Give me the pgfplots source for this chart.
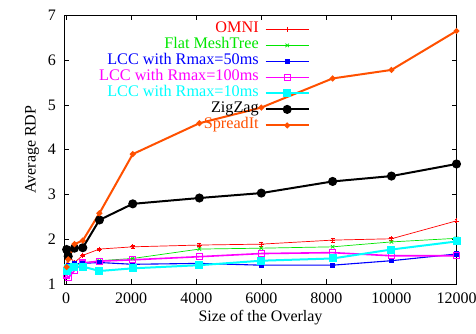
\documentclass[border=0pt]{standalone}
\usepackage{pgfplots}
\pgfplotsset{compat=1.18}
\usepackage{fontspec}
\setmainfont{Liberation Serif}
\definecolor{cOmni}{RGB}{255,0,0}
\definecolor{cFlat}{RGB}{0,230,0}
\definecolor{cL50}{RGB}{0,0,255}
\definecolor{cL100}{RGB}{255,0,255}
\definecolor{cL10}{RGB}{0,255,255}
\definecolor{cSpread}{RGB}{255,80,0}
\begin{document}
\fontsize{16}{19}\selectfont
\begin{tikzpicture}
\useasboundingbox (-64.5pt,-50pt) rectangle (411.5pt,284pt);
\begin{axis}[
  at={(0pt,0pt)}, anchor=south west,
  scale only axis, width=392pt, height=268.7pt,
  xmin=-50, xmax=12000, ymin=1, ymax=7,
  xtick={0,2000,4000,6000,8000,10000,12000},
  ytick={1,2,3,4,5,6,7},
  scaled x ticks=false,
  tick align=inside, major tick length=5pt,
  minor tick num=0,
  axis line style={line width=0.8pt},
  every tick/.style={line width=0.6pt, black},
  /pgf/number format/assume math mode=true,
  /pgf/number format/1000 sep={},
  ticklabel style={font=\fontsize{16}{19}\selectfont},
  xticklabel style={yshift=-3pt},
  yticklabel style={xshift=-3pt},
  xlabel={Size of the Overlay},
  ylabel={Average RDP},
  label style={font=\fontsize{16}{19}\selectfont},
  xlabel style={yshift=4pt},
  ylabel style={yshift=-2pt},
  legend plot pos=right,
  legend cell align=right,
  legend style={at={(0.626,0.978)}, anchor=north east, draw=none, fill=none,
    inner sep=0pt, row sep=0pt, column sep=5pt, font=\fontsize{16.2}{19}\selectfont,
    nodes={inner sep=1pt, text height=10.5pt, text depth=3.5pt}},
  legend image code/.code={\draw[mark repeat=2,mark phase=2] plot coordinates {(0pt,0pt) (21.5pt,0pt) (43pt,0pt)};},
]
\addplot[cOmni, line width=0.7pt, mark=+, mark size=2.5pt,
  error bars/.cd, y dir=both, y explicit, error mark options={rotate=90, mark size=2pt, cOmni}]
  table[x=x, y=y, y error=e] {
x y e
16 1.40 0.02
64 1.65 0.02
256 1.48 0.02
512 1.64 0.02
1024 1.78 0.02
2048 1.83 0.03
4096 1.87 0.03
6000 1.89 0.04
8192 1.98 0.04
10000 2.01 0.03
12000 2.41 0.04
};
\addlegendentry{\textcolor{cOmni}{OMNI}}
\addplot[cFlat, line width=0.7pt, mark=x, mark size=2.5pt] coordinates {
(16,1.30) (64,1.38) (256,1.42) (512,1.47) (1024,1.52) (2048,1.57) (4096,1.78) (6000,1.80) (8192,1.83) (10000,1.94) (12000,2.02)};
\addlegendentry{\textcolor{cFlat}{Flat MeshTree}}
\addplot[cL50, line width=1.1pt, mark=square*, mark size=2pt] coordinates {
(16,1.35) (64,1.42) (256,1.45) (512,1.46) (1024,1.48) (2048,1.44) (4096,1.46) (6000,1.42) (8192,1.42) (10000,1.52) (12000,1.67)};
\addlegendentry{\textcolor{cL50}{LCC with Rmax=50ms}}
\addplot[cL100, line width=1.6pt, mark=square, mark size=3pt, mark options={line width=1.2pt}] coordinates {
(16,1.20) (64,1.14) (256,1.30) (512,1.47) (1024,1.51) (2048,1.54) (4096,1.61) (6000,1.68) (8192,1.70) (10000,1.63) (12000,1.63)};
\addlegendentry{\textcolor{cL100}{LCC with Rmax=100ms}}
\addplot[cL10, line width=2pt, mark=square*, mark size=3pt] coordinates {
(16,1.28) (64,1.35) (256,1.39) (512,1.39) (1024,1.29) (2048,1.35) (4096,1.42) (6000,1.52) (8192,1.57) (10000,1.77) (12000,1.95)};
\addlegendentry{\textcolor{cL10}{LCC with Rmax=10ms}}
\addplot[black, line width=2pt, mark=*, mark size=3.5pt] coordinates {
(16,1.77) (64,1.62) (256,1.80) (512,1.81) (1024,2.43) (2048,2.79) (4096,2.92) (6000,3.03) (8192,3.29) (10000,3.41) (12000,3.68)};
\addlegendentry{ZigZag}
\addplot[cSpread, line width=2pt, mark=*, mark size=1.8pt] coordinates {
(16,1.38) (64,1.55) (256,1.89) (512,1.97) (1024,2.58) (2048,3.90) (4096,4.59) (6000,4.94) (8192,5.59) (10000,5.78) (12000,6.65)};
\addlegendentry{\textcolor{cSpread}{SpreadIt}}
\end{axis}
\end{tikzpicture}
\end{document}
